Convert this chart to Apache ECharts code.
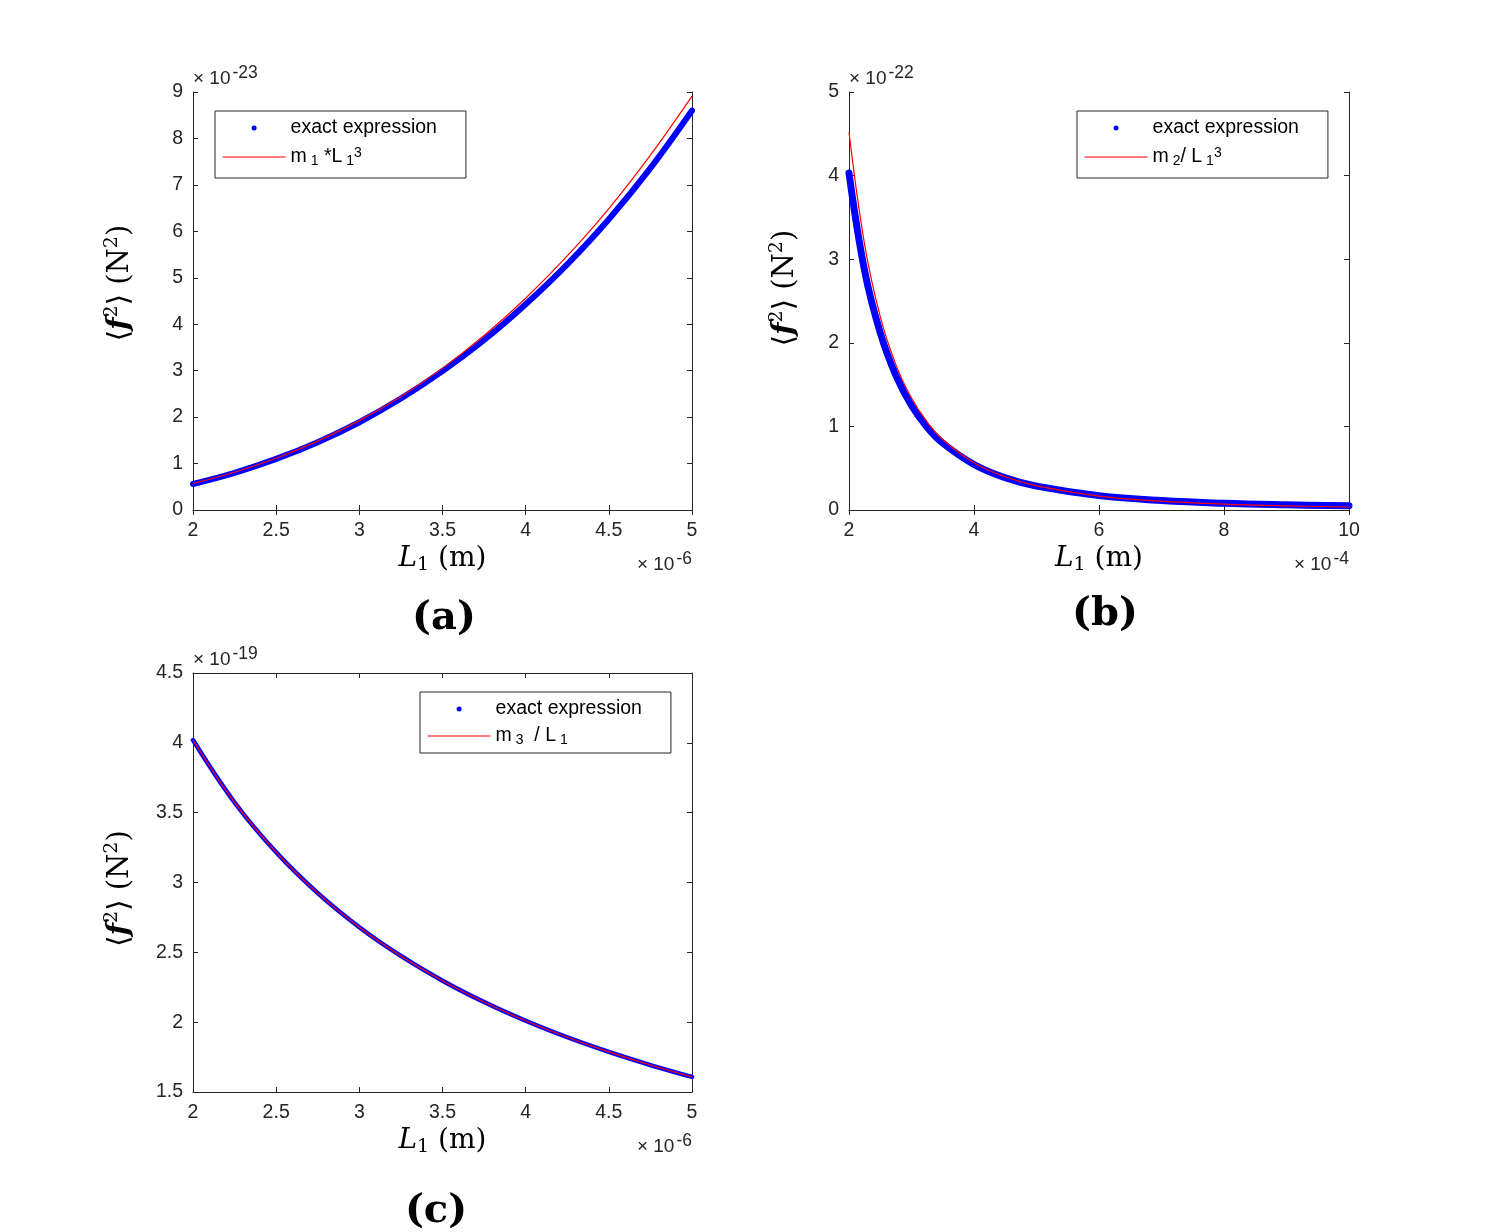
<!DOCTYPE html>
<html>
<head>
<meta charset="utf-8">
<script src="https://cdn.jsdelivr.net/npm/echarts@6/dist/echarts.min.js"></script>
<style>
  html, body { margin: 0; padding: 0; background: #fff; }
  #main { width: 1492px; height: 1232px; }
</style>
</head>
<body>
<div id="main"></div>
<script>
// (a) x in 1e-6 m, y in 1e-23 N^2
var xA = [2, 2.25, 2.5, 2.75, 3, 3.25, 3.5, 3.75, 4, 4.25, 4.5, 4.75, 5];
var exactA = [0.56, 0.80, 1.10, 1.46, 1.89, 2.40, 2.99, 3.66, 4.43, 5.29, 6.26, 7.36, 8.60];
var fitA = [0.57, 0.812, 1.113, 1.482, 1.924, 2.446, 3.055, 3.757, 4.56, 5.47, 6.49, 7.64, 8.91];

// (b) x in 1e-4 m, y in 1e-22 N^2
var xB = [2, 2.25, 2.5, 2.75, 3, 3.25, 3.5, 4, 4.5, 5, 6, 7, 8, 9, 10];
var exactB = [4.03, 2.86, 2.12, 1.61, 1.25, 0.99, 0.80, 0.545, 0.385, 0.285, 0.172, 0.113, 0.080, 0.062, 0.050];
var fitB = [4.52, 3.175, 2.314, 1.739, 1.339, 1.053, 0.843, 0.565, 0.397, 0.289, 0.167, 0.105, 0.071, 0.050, 0.036];

// (c) x in 1e-6 m, y in 1e-19 N^2
var xC = [2, 2.25, 2.5, 2.75, 3, 3.25, 3.5, 3.75, 4, 4.25, 4.5, 4.75, 5];
var exactC = [4.02, 3.573, 3.216, 2.924, 2.68, 2.474, 2.297, 2.144, 2.01, 1.892, 1.787, 1.693, 1.608];
var fitC = [4.02, 3.573, 3.216, 2.924, 2.68, 2.474, 2.297, 2.144, 2.01, 1.892, 1.787, 1.693, 1.608];

var axisColor = '#262626';
var sans = 'Liberation Sans, Arial, sans-serif';
var serif = 'DejaVu Serif, Liberation Serif, serif';

function pairs(xs, ys) {
  var out = [];
  for (var i = 0; i < xs.length; i++) out.push([xs[i], ys[i]]);
  return out;
}

var supRich = {
  x: { fontSize: 19, fontFamily: sans, color: axisColor, lineHeight: 24, verticalAlign: 'bottom' },
  e: { fontSize: 17.5, fontFamily: sans, color: axisColor, lineHeight: 16, verticalAlign: 'top', padding: [0, 0, 0, 2] }
};
var yNameRich = {
  b: { fontSize: 29, fontFamily: serif, color: '#000', lineHeight: 34 },
  f: { fontSize: 29, fontFamily: serif, fontStyle: 'italic', fontWeight: 'bold', color: '#000', lineHeight: 34 },
  s: { fontSize: 19, fontFamily: serif, color: '#000', lineHeight: 18, verticalAlign: 'top' }
};
var xNameRich = {
  i: { fontSize: 28, fontFamily: serif, fontStyle: 'italic', color: '#000', lineHeight: 32 },
  n: { fontSize: 28, fontFamily: serif, color: '#000', lineHeight: 32 },
  d: { fontSize: 19, fontFamily: serif, color: '#000', lineHeight: 18, verticalAlign: 'bottom' }
};
var legRich = {
  n: { fontSize: 19.5, fontFamily: sans, color: '#000', lineHeight: 22 },
  d: { fontSize: 14, fontFamily: sans, color: '#000', lineHeight: 12, verticalAlign: 'bottom' },
  u: { fontSize: 14, fontFamily: sans, color: '#000', lineHeight: 12, verticalAlign: 'top' }
};
var legText = {
  'exact expression': '{n|exact expression}',
  'm1*L1^3': '{n|m}{d| 1}{n| *L}{d| 1}{u|3}',
  'm2/L1^3': '{n|m}{d| 2}{n|/ L}{d| 1}{u|3}',
  'm3/L1': '{n|m}{d| 3}{n|  / L}{d| 1}'
};

function bottomX(gi, min, max, step) {
  return {
    type: 'value', gridIndex: gi, min: min, max: max, interval: step, position: 'bottom',
    name: '{i|L}{d|1}{n| (m)}', nameLocation: 'middle', nameGap: 33,
    nameTextStyle: { rich: xNameRich },
    axisLine: { lineStyle: { color: axisColor, width: 1 } },
    axisTick: { inside: true, length: 5, lineStyle: { color: axisColor } },
    axisLabel: { fontSize: 19.5, fontFamily: sans, color: axisColor, margin: 11 },
    splitLine: { show: false }
  };
}
function topX(gi, min, max, step) {
  return {
    type: 'value', gridIndex: gi, min: min, max: max, interval: step, position: 'top',
    axisLine: { lineStyle: { color: axisColor, width: 1 } },
    axisTick: { inside: true, length: 5, lineStyle: { color: axisColor } },
    axisLabel: { show: false }, splitLine: { show: false }
  };
}
function leftY(gi, min, max, step, exp) {
  return {
    type: 'value', gridIndex: gi, min: min, max: max, interval: step, position: 'left',
    name: '{x|× 10}{e|' + exp + '}', nameLocation: 'end', nameGap: 4,
    nameTextStyle: { align: 'left', verticalAlign: 'bottom', rich: supRich },
    axisLine: { show: true, lineStyle: { color: axisColor, width: 1 } },
    axisTick: { show: true, inside: true, length: 5, lineStyle: { color: axisColor } },
    axisLabel: { fontSize: 19.5, fontFamily: sans, color: axisColor, margin: 10 },
    splitLine: { show: false }
  };
}
function rightY(gi, min, max, step, exp) {
  return {
    type: 'value', gridIndex: gi, min: min, max: max, interval: step, position: 'right',
    name: '{x|× 10}{e|' + exp + '}', nameLocation: 'start', nameGap: 40,
    nameTextStyle: { align: 'right', verticalAlign: 'top', rich: supRich },
    axisLine: { show: true, lineStyle: { color: axisColor, width: 1 } },
    axisTick: { show: true, inside: true, length: 5, lineStyle: { color: axisColor } },
    axisLabel: { show: false }, splitLine: { show: false }
  };
}

// the y axis titles sit on invisible companion axes so the exponent can go at the top
function yTitle(gi, min, max, gap, pad) {
  return {
    type: 'value', gridIndex: gi, min: min, max: max, position: 'left',
    name: '{b|⟨}{f|f}{s|2}{b|⟩ (N}{s|2}{b|)}', nameLocation: 'middle', nameGap: gap,
    nameTextStyle: { rich: yNameRich, padding: pad },
    axisLine: { show: false }, axisTick: { show: false }, axisLabel: { show: false }, splitLine: { show: false }
  };
}

function legend(left, top, names, pad, gap) {
  return {
    orient: 'vertical', left: left, top: top, padding: pad, itemGap: gap,
    itemWidth: 63, itemHeight: 5, selectedMode: false,
    backgroundColor: '#fff', borderColor: axisColor, borderWidth: 1,
    formatter: function (n) { return legText[n]; },
    textStyle: { rich: legRich },
    data: [
      { name: names[0], icon: 'circle', itemStyle: { color: '#0000ff', borderWidth: 0 } },
      { name: names[1], itemStyle: { opacity: 0 }, lineStyle: { color: '#ff0000', width: 1.2, opacity: 1 } }
    ]
  };
}

function exactSeries(xi, yi, data, w) {
  return {
    name: 'exact expression', type: 'line', xAxisIndex: xi, yAxisIndex: yi,
    data: data, smooth: 0.4, showSymbol: false, z: 2,
    itemStyle: { color: '#0000ff' },
    lineStyle: { color: '#0000ff', width: w, cap: 'round', join: 'round' }
  };
}
function fitSeries(name, xi, yi, data) {
  return {
    name: name, type: 'line', xAxisIndex: xi, yAxisIndex: yi,
    data: data, smooth: 0.4, symbol: 'none', z: 3,
    itemStyle: { color: '#ff0000' },
    lineStyle: { color: '#ff0000', width: 1.2 }
  };
}

var tagStyle = { fontSize: 40, fontWeight: 'bold', fontFamily: serif, color: '#000' };

var option = {
  backgroundColor: '#fff',
  animation: false,
  title: [
    { text: '(a)', left: 439, top: 594, textAlign: 'center', textStyle: tagStyle },
    { text: '(b)', left: 1100, top: 590, textAlign: 'center', textStyle: tagStyle },
    { text: '(c)', left: 431, top: 1187, textAlign: 'center', textStyle: tagStyle }
  ],
  grid: [
    { left: 193, top: 92, width: 499, height: 418 },
    { left: 193, top: 92, width: 499, height: 418 },
    { left: 849, top: 92, width: 500, height: 418 },
    { left: 849, top: 92, width: 500, height: 418 },
    { left: 193, top: 673, width: 499, height: 419 },
    { left: 193, top: 673, width: 499, height: 419 }
  ],
  xAxis: [
    bottomX(0, 2, 5, 0.5), topX(1, 2, 5, 0.5),
    bottomX(2, 2, 10, 2), topX(3, 2, 10, 2),
    bottomX(4, 2, 5, 0.5), topX(5, 2, 5, 0.5)
  ],
  yAxis: [
    leftY(0, 0, 9, 1, '-23'), rightY(1, 0, 9, 1, '-6'), yTitle(0, 0, 9, 56, [0, 0, 0, 36]),
    leftY(2, 0, 5, 1, '-22'), rightY(3, 0, 5, 1, '-4'), yTitle(2, 0, 5, 47, [0, 0, 0, 26]),
    leftY(4, 1.5, 4.5, 0.5, '-19'), rightY(5, 1.5, 4.5, 0.5, '-6'), yTitle(4, 1.5, 4.5, 56, [0, 12, 0, 0])
  ],
  legend: [
    legend(215, 111, ['exact expression', 'm1*L1^3'], [7, 29, 10, 7], 8),
    legend(1077, 111, ['exact expression', 'm2/L1^3'], [7, 29, 10, 7], 8),
    legend(420, 692, ['exact expression', 'm3/L1'], [7, 29, 6, 7], 7)
  ],
  series: [
    exactSeries(0, 0, pairs(xA, exactA), 6),
    fitSeries('m1*L1^3', 0, 0, pairs(xA, fitA)),
    exactSeries(2, 3, pairs(xB, exactB), 7),
    fitSeries('m2/L1^3', 2, 3, pairs(xB, fitB)),
    exactSeries(4, 6, pairs(xC, exactC), 4.5),
    fitSeries('m3/L1', 4, 6, pairs(xC, fitC))
  ]
};

var chart = echarts.init(document.getElementById('main'));
chart.setOption(option);
</script>
</body>
</html>
